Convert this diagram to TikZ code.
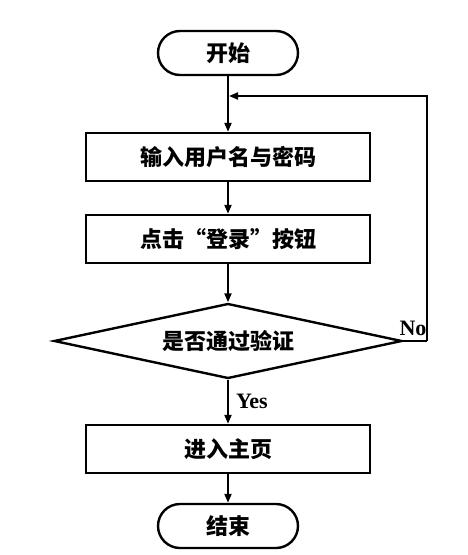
\documentclass[tikz,border=0pt]{standalone}
\usepackage{fontspec}
\newfontfamily\cjk{Noto Sans CJK SC}
\usetikzlibrary{shapes.geometric,arrows.meta}

\begin{document}
\begin{tikzpicture}[x=1pt,y=-1pt,
    term_node/.style={draw,line width=2.4pt,rounded corners=22pt,minimum width=140pt,minimum height=44pt,inner sep=0,font=\cjk\bfseries\fontsize{22}{22}\selectfont},
    proc_node/.style={draw,line width=2.4pt,minimum width=284pt,minimum height=48pt,inner sep=0,font=\cjk\bfseries\fontsize{22}{22}\selectfont},
    dec_node/.style={draw,diamond,aspect=4.64,line width=2.4pt,minimum width=348pt,minimum height=75pt,inner sep=0,font=\cjk\bfseries\fontsize{22}{22}\selectfont},
    flow/.style={line width=2pt,-{Triangle[length=9pt,width=7pt]}},
    lab/.style={font=\fontspec{Liberation Serif}\bfseries\fontsize{22}{22}\selectfont,inner sep=0}]
    \useasboundingbox (0,0) rectangle (468,555);
    \node[term_node] (start) at (228,53) {开始};
    \node[proc_node] (input) at (228,157) {输入用户名与密码};
    \node[proc_node] (click) at (228,239) {点击“登录”按钮};
    \node[dec_node] (check) at (228,341) {是否通过验证};
    \node[proc_node] (home) at (228,449) {进入主页};
    \node[term_node] (stop) at (228,526) {结束};
    \coordinate (join) at (229,96);
    \coordinate (corner) at (427,341);

    \draw[flow] (start) -- (input);
    \draw[flow] (input) -- (click);
    \draw[flow] (click) -- (check);
    \draw[flow] (check) -- node[lab,right=7pt] {Yes} (home);
    \draw[flow] (home) -- (stop);
    \draw[line width=2pt] (check.east) -- (corner);
    \draw[flow] (corner) |- (join);
    \node[lab] (no) at (413,328) {No};

\end{tikzpicture}
\end{document}
